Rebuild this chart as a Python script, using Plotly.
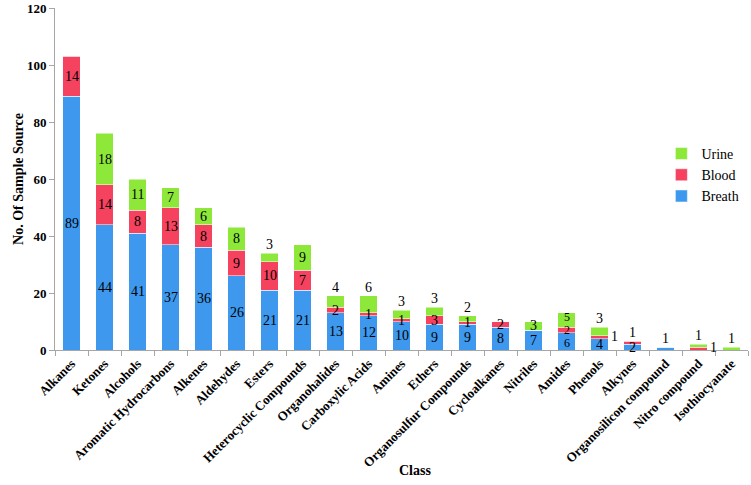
import plotly.graph_objects as go

categories = ["Alkanes", "Ketones", "Alcohols", "Aromatic Hydrocarbons", "Alkenes",
              "Aldehydes", "Esters", "Heterocyclic Compounds", "Organohalides",
              "Carboxylic Acids", "Amines", "Ethers", "Organosulfur Compounds",
              "Cycloalkanes", "Nitriles", "Amides", "Phenols", "Alkynes",
              "Organosilicon compound", "Nitro compound", "Isothiocyanate"]
breath = [89, 44, 41, 37, 36, 26, 21, 21, 13, 12, 10, 9, 9, 8, 7, 6, 4, 2, 1, 0, 0]
blood = [14, 14, 8, 13, 8, 9, 10, 7, 2, 1, 1, 3, 1, 2, 0, 2, 1, 1, 0, 1, 0]
urine = [0, 18, 11, 7, 6, 8, 3, 9, 4, 6, 3, 3, 2, 0, 3, 5, 3, 0, 0, 1, 1]

# label placement style per point: "in" (centered), "hi"/"lo" (centered, nudged),
# "top" (above segment), "right" (beside the bar)
breath_pos = ["in"] * 15 + ["lo", "in", "in", "top", "in", "in"]
blood_pos = ["in"] * 16 + ["right", "top", "in", "right", "in"]
urine_pos = ["in", "in", "in", "in", "in", "in", "top", "in", "top", "top", "top", "top",
             "top", "in", "in", "hi", "top", "in", "in", "top", "top"]
cramped = ["Amides"]  # categories whose labels are drawn slightly smaller

colors = {"Breath": "#3d98ee", "Blood": "#f4425f", "Urine": "#8de83a"}
serif = "Liberation Serif, Times New Roman, serif"

fig = go.Figure()
series = [("Breath", breath, breath_pos), ("Blood", blood, blood_pos), ("Urine", urine, urine_pos)]
for name, vals, _ in series:
    fig.add_trace(go.Bar(
        x=categories, y=vals, name=name,
        marker=dict(color=colors[name], line=dict(color="rgba(255,255,255,0.5)", width=1)),
    ))

annotations = []
base = [0] * len(categories)
for name, vals, pos in series:
    for i, (c, v, p) in enumerate(zip(categories, vals, pos)):
        if v > 0:
            f = dict(family=serif, size=12 if c in cramped else 14, color="black")
            if p in ("in", "hi", "lo"):
                shift = {"in": 0, "hi": 3, "lo": -2}[p]
                annotations.append(dict(x=c, y=base[i] + v / 2, text=str(v), showarrow=False,
                                        font=f, yanchor="middle", yshift=shift))
            elif p == "top":
                annotations.append(dict(x=c, y=base[i] + v, text=str(v), showarrow=False,
                                        font=f, yanchor="bottom", yshift=-1))
            else:
                annotations.append(dict(x=c, y=base[i] + v / 2, text=str(v), showarrow=False,
                                        font=f, yanchor="middle", xshift=15, yshift=1))
        base[i] += v

annotations.append(dict(x=0.52, y=-0.352, xref="paper", yref="paper", text="Class",
                        showarrow=False, font=dict(family=serif, size=14, color="black", weight="bold"),
                        yanchor="middle"))

fig.update_layout(
    width=751, height=485,
    margin=dict(l=55, r=3, t=8, b=135),
    barmode="stack", bargap=0.48,
    plot_bgcolor="white", paper_bgcolor="white",
    font=dict(family=serif, color="black"),
    annotations=annotations,
    legend=dict(x=0.875, y=0.62, xanchor="left", yanchor="top", traceorder="reversed",
                font=dict(family=serif, size=14, color="black"),
                itemwidth=30, tracegroupgap=4, bgcolor="rgba(0,0,0,0)"),
    xaxis=dict(tickangle=-45, tickfont=dict(family=serif, size=13, color="black", weight="bold"),
               showline=True, linecolor="#a6a6a6", linewidth=1, automargin=False,
               ticks="outside", tickson="boundaries", ticklen=5, tickcolor="#a6a6a6",
               showgrid=False),
    yaxis=dict(range=[0, 120], dtick=20, tickfont=dict(family=serif, size=13, color="black", weight="bold"),
               showline=True, linecolor="#a6a6a6", linewidth=1, automargin=False,
               ticks="outside", ticklen=5, tickcolor="#a6a6a6", showgrid=False, zeroline=False,
               title=dict(text="No. Of Sample Source", font=dict(family=serif, size=14, color="black", weight="bold"),
                          standoff=0)),
)

fig.write_html("out.html", config={"displayModeBar": False},
               post_script="document.body.style.margin='0';")
